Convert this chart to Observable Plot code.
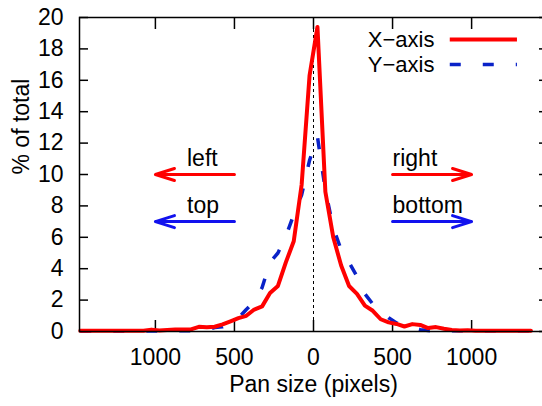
<!DOCTYPE html>
<html><head><meta charset="utf-8">
<script src="https://cdn.jsdelivr.net/npm/d3@7"></script>
<script src="https://cdn.jsdelivr.net/npm/@observablehq/plot@0.6"></script>
<style>html,body{margin:0;padding:0;background:#fff;overflow:hidden}</style>
</head><body><div id="chart"></div>
<script>
// Pan size bin centres (pixels, signed: negative = left/top)
const panSize = [-1475,-1425,-1375,-1325,-1275,-1225,-1175,-1125,-1075,-1025,-975,-925,-875,-825,-775,-725,-675,-625,-575,-525,-475,-425,-375,-325,-275,-225,-175,-125,-75,-25,
  25,75,125,175,225,275,325,375,425,475,525,575,625,675,725,775,825,875,925,975,1025,1075,1125,1175,1225,1275,1325,1375];
// % of total, X-axis pans
const xAxisPct = [0.05,0.05,0.05,0.05,0.05,0.05,0.04,0.05,0.05,0.12,0.07,0.1,0.12,0.12,0.13,0.3,0.27,0.3,0.45,0.65,0.85,1.0,1.4,1.6,2.45,2.9,4.4,5.75,9.35,16.3,
  19.4,8.9,6.0,4.2,2.9,2.4,1.65,1.32,0.78,0.58,0.48,0.32,0.47,0.42,0.22,0.28,0.18,0.1,0.07,0.08,0.05,0.05,0.04,0.05,0.05,0.04,0.05,0.05];
// % of total, Y-axis pans
const yAxisPct = [0.03,0.03,0.03,0.03,0.03,0.03,0.03,0.03,0.03,0.03,0.04,0.04,0.04,0.05,0.05,0.07,0.12,0.25,0.3,0.5,0.85,1.4,1.9,2.8,4.4,5.0,6.05,7.45,8.7,10.9,
  12.4,9.0,6.6,5.2,4.4,3.5,2.4,1.75,1.3,0.87,0.55,0.4,0.25,0.12,0.06,0.04,0.04,0.04,0.04,0.04,0.04,0.04,0.04,0.04,0.04,0.04,0.04,0.04];

const xTicks = [-1000,-500,0,500,1000];
const yTicks = [0,2,4,6,8,10,12,14,16,18,20];
const seriesNames = ["X\u2212axis","Y\u2212axis"];
const xLabel = "Pan size (pixels)";
const yLabel = "% of total";

const RED = "#ff0000", BLUE_LINE = "#0a22c8", BLUE_ARROW = "#1212ee";

const xRows = panSize.map((x,i)=>({x, pct: xAxisPct[i]}));
const yRows = panSize.map((x,i)=>({x, pct: yAxisPct[i]}));

// direction annotations
const redNotes = [
  {label:"left", tx:-800, ty:11, x1:-500, x2:-1000, ay:10},
  {label:"right", tx:500, ty:11, x1:500, x2:1000, ay:10}
];
const blueNotes = [
  {label:"top", tx:-800, ty:8, x1:-500, x2:-1000, ay:7},
  {label:"bottom", tx:500, ty:8, x1:500, x2:1000, ay:7}
];
// key
const keyRows = [
  {name: seriesNames[0], tx: 765, ty: 18.6, x1: 865, x2: 1290},
  {name: seriesNames[1], tx: 765, ty: 17.0, x1: 865, x2: 1290}
];

const FS = 23;
const chart = Plot.plot({
  width: 542, height: 406,
  marginLeft: 79, marginRight: -5, marginTop: 17, marginBottom: 75,
  x: {domain: [-1480, 1480]},
  y: {domain: [0, 20]},
  style: {fontFamily: "'Liberation Sans', Arial, Helvetica, sans-serif", fontSize: FS + "px", background: "white", color: "black"},
  marks: [
    Plot.ruleX([0], {stroke: "black", strokeWidth: 1, strokeDasharray: "3,3"}),
    Plot.axisX({anchor: "bottom", ticks: xTicks, tickFormat: d => String(Math.abs(d)), tickSize: -11, tickPadding: 28, label: null, strokeWidth: 1.5, fontSize: FS}),
    Plot.axisX({anchor: "top", ticks: xTicks, tickFormat: () => "", tickSize: -11, label: null, strokeWidth: 1.5}),
    Plot.axisY({anchor: "left", ticks: yTicks, tickSize: -9, tickPadding: 25, label: null, strokeWidth: 1.5, fontSize: FS}),
    Plot.axisY({anchor: "right", ticks: yTicks, tickFormat: () => "", tickSize: -9, label: null, strokeWidth: 1.5}),
    Plot.text([xLabel], {frameAnchor: "bottom", dy: 60, fontSize: FS}),
    Plot.text([yLabel], {frameAnchor: "left", dx: -58, rotate: -90, fontSize: FS}),
    Plot.line(yRows, {x: "x", y: "pct", stroke: BLUE_LINE, strokeWidth: 3.5, strokeDasharray: "11,22", strokeLinecap: "butt"}),
    Plot.line(xRows, {x: "x", y: "pct", stroke: RED, strokeWidth: 4}),
    Plot.arrow(redNotes, {x1: "x1", x2: "x2", y1: "ay", y2: "ay", stroke: RED, strokeWidth: 3, headLength: 10, headAngle: 35}),
    Plot.arrow(blueNotes, {x1: "x1", x2: "x2", y1: "ay", y2: "ay", stroke: BLUE_ARROW, strokeWidth: 3, headLength: 10, headAngle: 35}),
    Plot.text(redNotes.concat(blueNotes), {x: "tx", y: "ty", text: "label", textAnchor: "start", fontSize: FS}),
    Plot.text(keyRows, {x: "tx", y: "ty", text: "name", textAnchor: "end", fontSize: 22}),
    Plot.ruleY(keyRows.slice(0,1), {x1: "x1", x2: "x2", y: "ty", stroke: RED, strokeWidth: 4}),
    Plot.ruleY(keyRows.slice(1,2), {x1: "x1", x2: "x2", y: "ty", stroke: BLUE_LINE, strokeWidth: 3.5, strokeDasharray: "11,22"}),
    Plot.frame({stroke: "black", strokeWidth: 1.5})
  ]
});
document.getElementById("chart").appendChild(chart);
</script>
</body></html>
